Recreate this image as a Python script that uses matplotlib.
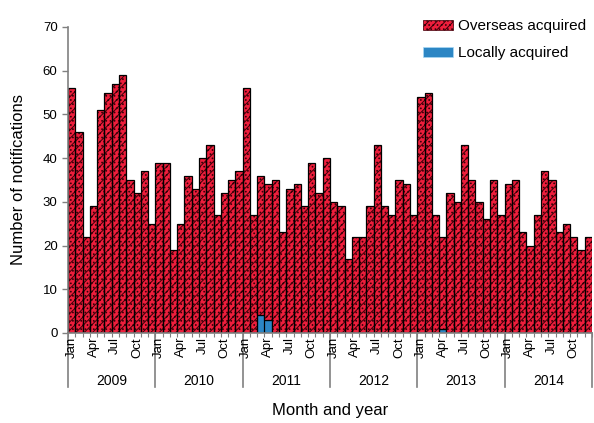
import matplotlib
matplotlib.use("Agg")
import matplotlib.pyplot as plt
import matplotlib.transforms as mtransforms
from matplotlib.patches import Patch
import numpy as np

plt.rcParams['font.family'] = ['Liberation Sans', 'DejaVu Sans']
plt.rcParams['hatch.linewidth'] = 0.7

years = ["2009", "2010", "2011", "2012", "2013", "2014"]
month_labels = ["Jan", "Apr", "Jul", "Oct"]

# total notifications per month
total = [
    56, 46, 22, 29, 51, 55, 57, 59, 35, 32, 37, 25,   # 2009
    39, 39, 19, 25, 36, 33, 40, 43, 27, 32, 35, 37,   # 2010
    56, 27, 36, 34, 35, 23, 33, 34, 29, 39, 32, 40,   # 2011
    30, 29, 17, 22, 22, 29, 43, 29, 27, 35, 34, 27,   # 2012
    54, 55, 27, 22, 32, 30, 43, 35, 30, 26, 35, 27,   # 2013
    34, 35, 23, 20, 27, 37, 35, 23, 25, 22, 19, 22,   # 2014
]
locally = [0] * 72
locally[26] = 4   # Mar 2011
locally[27] = 3   # Apr 2011
locally[51] = 1   # Apr 2013
overseas = [t - l for t, l in zip(total, locally)]

red = "#EE1E3C"
blue = "#2C86C4"
red_hatch = "////...."
blue_hatch = "vvv"

fig = plt.figure(figsize=(5.94, 4.23), dpi=100)
ax = fig.add_axes([0.1145, 0.2128, 0.882, 0.7234])

x = np.arange(len(total))
# locally acquired (bottom)
ax.bar(x, locally, width=1.0, color=blue, edgecolor="#a8d8f5", hatch=blue_hatch, linewidth=0)
ax.bar(x, locally, width=1.0, fill=False, edgecolor="black", linewidth=0.8)
# overseas acquired (top)
ax.bar(x, overseas, bottom=locally, width=1.0, color=red, edgecolor="#3a0008", hatch=red_hatch, linewidth=0)
ax.bar(x, overseas, bottom=locally, width=1.0, fill=False, edgecolor="black", linewidth=0.9)

ax.set_xlim(-0.5, len(total) - 0.5)
ax.set_ylim(0, 70)
ax.set_yticks(range(0, 71, 10))
ax.tick_params(axis='y', labelsize=9.5, colors="#808080", labelcolor="black", length=4, width=1)

for s in ["top", "right"]:
    ax.spines[s].set_visible(False)
for s in ["left", "bottom"]:
    ax.spines[s].set_color("#808080")
    ax.spines[s].set_linewidth(1.2)

# x ticks: minor at each month boundary
ax.set_xticks(np.arange(-0.5, len(total), 1.0))
ax.set_xticklabels([])
ax.tick_params(axis='x', length=3, width=0.8, colors="#808080")

trans = mtransforms.blended_transform_factory(ax.transData, ax.transAxes)
for yi, yr in enumerate(years):
    for mi, ml in enumerate(month_labels):
        pos = yi * 12 + mi * 3
        ax.text(pos, -0.013, ml, transform=trans, rotation=90, ha="center", va="top", fontsize=9.5)
    ax.text(yi * 12 + 5.5, -0.157, yr, transform=trans, ha="center", va="center", fontsize=10)
for b in range(len(years) + 1):
    ax.plot([b * 12 - 0.5, b * 12 - 0.5], [0, -0.175], transform=trans, color="#808080", lw=1.2, clip_on=False)

ax.set_ylabel("Number of notifications", fontsize=12, labelpad=12)
fig.text(0.555, 0.03, "Month and year", ha="center", va="center", fontsize=12)

handles = [Patch(facecolor=red, edgecolor="#3a0008", hatch=red_hatch, linewidth=0.5),
           Patch(facecolor=blue, edgecolor="#a8d8f5", hatch=blue_hatch, linewidth=0.5)]
ax.legend(handles, ["Overseas acquired", "Locally acquired"], loc="upper right",
          bbox_to_anchor=(1.015, 1.07), frameon=False, fontsize=11,
          handlelength=2.0, handleheight=0.6, labelspacing=0.85, handletextpad=0.3)

fig.savefig("out.png", dpi=100)
